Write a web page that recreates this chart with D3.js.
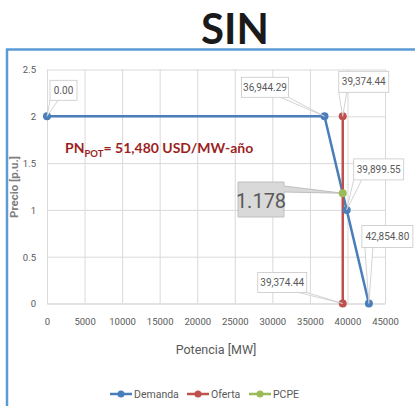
<!DOCTYPE html>
<html>
<head>
<meta charset="utf-8">
<script src="https://cdn.jsdelivr.net/npm/d3@7"></script>
<style>
body { margin: 0; background: #fff; }
text { font-family: Roboto, "Open Sans", sans-serif; }
.tick text { fill: #595959; font-size: 9.5px; }
</style>
</head>
<body>
<div id="chart"></div>
<script>
// data
var demanda = [[0, 2], [36944.29, 2], [39899.55, 1], [42854.80, 0]];
var oferta = [[39374.44, 0], [39374.44, 2]];
var pcpe = [[39374.44, 1.178]];
var xTicks = [0, 5000, 10000, 15000, 20000, 25000, 30000, 35000, 40000, 45000];
var yTicks = [0, 0.5, 1, 1.5, 2, 2.5];
var seriesNames = ["Demanda", "Oferta", "PCPE"];
var seriesColors = ["#4a7ebb", "#c0504d", "#9bbb59"];
// label text for points: [x, y, text]
var pointLabels = [
  [0, 2, "0.00"],
  [36944.29, 2, "36,944.29"],
  [39374.44, 2, "39,374.44"],
  [39899.55, 1, "39,899.55"],
  [42854.80, 0, "42,854.80"],
  [39374.44, 0, "39,374.44"]
];
// box placement for each label (dx, dy of box top-left from point, width, height)
var labelBoxes = [
  [3, -36, 27, 20],
  [-83, -39, 47, 20],
  [-4, -45, 50, 21],
  [7, -51, 50, 21],
  [-7, -78, 51, 22],
  [-85, -31, 49, 20]
];

var svg = d3.select("#chart").append("svg").attr("width", 415).attr("height", 406);

// frame
svg.append("rect").attr("x", 7).attr("y", 49.5).attr("width", 420).attr("height", 420)
  .attr("fill", "none").attr("stroke", "#5b9bd5").attr("stroke-width", 2.5);

svg.append("text").attr("x", 235).attr("y", 44).attr("text-anchor", "middle")
  .style("font-family", "Lato, sans-serif").style("font-weight", "bold").style("font-size", "42px")
  .attr("fill", "#1a1a1a").text("SIN");

var x = d3.scaleLinear().domain([0, 45000]).range([47, 385]);
var y = d3.scaleLinear().domain([0, 2.5]).range([303.5, 69.5]);

var xAxis = d3.axisBottom(x).tickValues(xTicks).tickFormat(d3.format("d")).tickSizeInner(-234).tickSizeOuter(0).tickPadding(15);
var yAxis = d3.axisLeft(y).tickValues(yTicks).tickFormat(function(d) { return d; }).tickSizeInner(-338).tickSizeOuter(0).tickPadding(11);

var gx = svg.append("g").attr("transform", "translate(0,303.5)").call(xAxis);
var gy = svg.append("g").attr("transform", "translate(47,0)").call(yAxis);
gx.select(".domain").attr("stroke", "#d9d9d9");
gy.select(".domain").remove();
svg.selectAll(".tick line").attr("stroke", "#d9d9d9");
gy.selectAll(".tick text").attr("dy", "0.35em");

svg.append("text").attr("text-anchor", "middle").attr("transform", "translate(18,187) rotate(-90)")
  .style("font-size", "11.5px").style("font-weight", "bold").attr("fill", "#7f7f7f").text("Precio [p.u.]");
svg.append("text").attr("text-anchor", "middle").attr("x", 216).attr("y", 354)
  .style("font-size", "12.5px").attr("fill", "#595959").text("Potencia [MW]");

var line = d3.line().x(function(d) { return x(d[0]); }).y(function(d) { return y(d[1]); });

svg.append("path").datum(demanda).attr("d", line).attr("fill", "none")
  .attr("stroke", seriesColors[0]).attr("stroke-width", 2.5).attr("stroke-linejoin", "round");
svg.append("path").datum(oferta).attr("d", line).attr("fill", "none")
  .attr("stroke", seriesColors[1]).attr("stroke-width", 2.5);

// 1.178 callout
var gp = [x(pcpe[0][0]), y(pcpe[0][1])];
svg.append("path").attr("d", "M238,182 H284 V186 L" + gp[0] + "," + gp[1] + " L284,192 V217 H238 Z")
  .attr("fill", "#d9d9d9").attr("stroke", "#bfbfbf").attr("stroke-width", 1);
svg.append("text").attr("x", 261).attr("y", 208).attr("text-anchor", "middle")
  .style("font-size", "20px").attr("fill", "#595959").text(pcpe[0][1]);

svg.selectAll(".dem").data(demanda).enter().append("circle")
  .attr("cx", function(d) { return x(d[0]); }).attr("cy", function(d) { return y(d[1]); })
  .attr("r", 4).attr("fill", seriesColors[0]);
svg.selectAll(".ofe").data(oferta).enter().append("circle")
  .attr("cx", function(d) { return x(d[0]); }).attr("cy", function(d) { return y(d[1]); })
  .attr("r", 4).attr("fill", seriesColors[1]);
svg.selectAll(".pc").data(pcpe).enter().append("circle")
  .attr("cx", function(d) { return x(d[0]); }).attr("cy", function(d) { return y(d[1]); })
  .attr("r", 4).attr("fill", seriesColors[2]);

// data label callouts
pointLabels.forEach(function(p, i) {
  var px = x(p[0]), py = y(p[1]);
  var b = labelBoxes[i];
  var bx = px + b[0], by = py + b[1], bw = b[2], bh = b[3];
  var g = svg.append("g");
  // leader wedge from box edge to point
  var ex = Math.max(bx + 4, Math.min(bx + bw - 4, px));
  var ey = by + bh;
  if (py < by) ey = by;
  g.append("path").attr("d", "M" + (ex - 4) + "," + ey + " L" + px + "," + py + " L" + (ex + 4) + "," + ey)
    .attr("fill", "#fff").attr("stroke", "#c8c8c8").attr("stroke-width", 0.8);
  g.append("rect").attr("x", bx).attr("y", by).attr("width", bw).attr("height", bh)
    .attr("fill", "#fff").attr("stroke", "#c8c8c8").attr("stroke-width", 0.8);
  g.append("text").attr("x", bx + bw / 2).attr("y", by + bh / 2 + 3.5).attr("text-anchor", "middle")
    .style("font-size", "10px").attr("fill", "#595959").text(p[2]);
});

// PN text
var pn = svg.append("text").attr("x", 65).attr("y", 153).attr("fill", "#9c1f1f")
  .style("font-family", "Lato, sans-serif").style("font-weight", "bold").style("font-size", "14px");
pn.append("tspan").text("PN");
pn.append("tspan").attr("dy", 4).style("font-size", "9.5px").text("POT");
pn.append("tspan").attr("dy", -4).text("= 51,480 USD/MW-año");

// legend
var legX = [110, 187, 249];
seriesNames.forEach(function(n, i) {
  var g = svg.append("g").attr("transform", "translate(" + legX[i] + ",394)");
  g.append("line").attr("x1", 0).attr("x2", 22).attr("stroke", seriesColors[i]).attr("stroke-width", 2.5);
  g.append("circle").attr("cx", 11).attr("r", 3.5).attr("fill", seriesColors[i]);
  g.append("text").attr("x", 24).attr("y", 4).style("font-size", "10.5px").attr("fill", "#595959").text(n);
});
</script>
</body>
</html>
